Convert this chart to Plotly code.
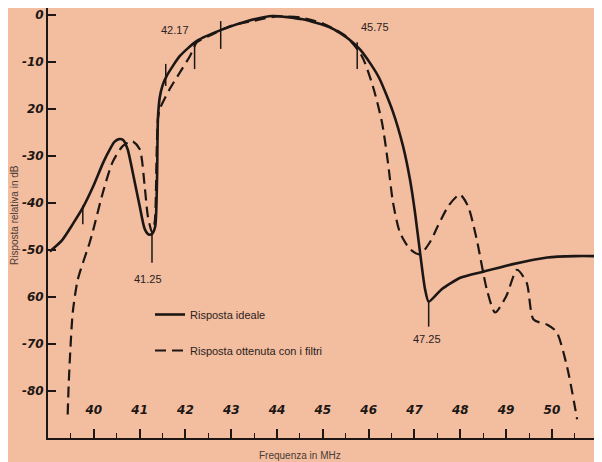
import plotly.graph_objects as go

# Ideal response (solid)
freq_ideal = [39.04, 39.3, 39.54, 39.76, 39.98, 40.2, 40.35, 40.45, 40.55, 40.64, 40.74, 40.85,
              41.0, 41.11, 41.2, 41.27, 41.34, 41.38, 41.4, 41.44, 41.5, 41.6, 41.88, 42.25,
              42.82, 43.34, 43.9, 44.56, 45.15, 45.37, 45.59, 45.81, 46.05, 46.24, 46.53, 46.75,
              46.9, 47.01, 47.12, 47.23, 47.31, 47.6, 48.0, 48.5, 49.15, 49.9, 50.5, 51.0]
db_ideal = [-50.3, -48, -44.5, -41, -36.6, -31.5, -28.6, -27, -26.4, -26.6, -28.6, -33.5,
            -40.6, -45.5, -46.7, -46.6, -45, -35, -22, -17.5, -15, -12.8, -8.7, -5.5,
            -3, -1.3, -0.2, -0.9, -2.6, -3.8, -5.3, -7.3, -10.5, -13.6, -20.6, -27.9,
            -34.9, -41.9, -50.4, -58.3, -61, -58.3, -55.9, -54.6, -53, -51.6, -51.3, -51.3]

# Response obtained with the filters (dashed)
freq_filt = [39.43, 39.45, 39.48, 39.54, 39.65, 39.91, 39.98, 40.2, 40.41, 40.63, 40.83, 41.0,
             41.11, 41.18, 41.27, 41.33, 41.37, 41.4, 41.44, 41.66, 41.88, 42.1, 42.25,
             42.5, 43.0, 43.5, 44.0, 44.5, 45.0, 45.5, 45.85, 46.09, 46.29, 46.42, 46.53, 46.68,
             46.9, 47.12, 47.34, 47.51, 47.75, 47.99, 48.17, 48.36, 48.58, 48.76, 49.0, 49.24,
             49.45, 49.6, 49.9, 50.1, 50.33, 50.55]
db_filt = [-85, -79, -72.7, -63.3, -56.3, -48.4, -46, -37.7, -31.3, -27.9, -26.8, -28.5,
           -36.4, -42.8, -46.2, -44, -30, -22, -20, -15.7, -12.2, -8.7, -5.8,
           -4.5, -2.3, -1.2, -0.3, -0.5, -1.8, -4.5, -8.7, -15.1, -22.8, -31.3, -39.8, -46.2,
           -49.8, -50.9, -48.3, -44.9, -40.5, -38.2, -40.7, -47.8, -58.4, -63.3, -59.9, -54.2,
           -57, -64.8, -65.9, -67.4, -74.8, -86]

# Reference marks (short vertical strokes)
mark_x = [39.76, 41.27, 41.57, 42.2, 42.77, 45.75, 47.31]
mark_top = [-40.5, -46.7, -10.4, -5.8, -1.3, -5.8, -61]
mark_bot = [-44.5, -52.7, -15.1, -11.5, -7.2, -11.5, -66.3]

label_text = ["41.25", "42.17", "45.75", "47.25"]
label_x = [41.18, 41.77, 46.13, 47.27]
label_y = [-56.2, -3.2, -2.55, -68.9]

x_ticks = [40, 41, 42, 43, 44, 45, 46, 47, 48, 49, 50, 51]
x_labels = ["40", "41", "42", "43", "44", "45", "46", "47", "48", "49", "50", "51"]
y_ticks = [0, -10, -20, -30, -40, -50, -60, -70, -80]
y_labels = ["0", "-10", "20", "-30", "-40", "-50", "60", "-70", "-80"]

ink = "#1c1714"
bg = "#f3bd9f"

fig = go.Figure()
fig.add_trace(go.Scatter(x=freq_ideal, y=db_ideal, mode="lines", name="Risposta ideale",
                         line=dict(color=ink, width=2.6, shape="spline", smoothing=0.6),
                         legendgroup="a"))
fig.add_trace(go.Scatter(x=freq_filt, y=db_filt, mode="lines", name="Risposta ottenuta con i filtri",
                         line=dict(color=ink, width=2.2, dash="11px,6px", shape="spline", smoothing=0.7),
                         legendgroup="b"))

mx, my = [], []
for x, t, b in zip(mark_x, mark_top, mark_bot):
    mx += [x, x, None]
    my += [t, b, None]
fig.add_trace(go.Scatter(x=mx, y=my, mode="lines", showlegend=False,
                         line=dict(color=ink, width=1.5), hoverinfo="skip"))

for t, x, y in zip(label_text, label_x, label_y):
    fig.add_annotation(x=x, y=y, text=t, showarrow=False,
                       font=dict(family="Liberation Sans", size=11, color="#2a2220"))

fig.add_annotation(xref="paper", yref="paper", x=(300 - 48) / 552, y=-(455 - 438) / 430,
                   xanchor="center", yanchor="middle",
                   text="Frequenza in MHz", showarrow=False,
                   font=dict(family="Liberation Sans", size=10, color="#4a3c36"))
fig.add_annotation(xref="paper", yref="paper", x=-(48 - 15) / 552, y=(438 - 215) / 430,
                   xanchor="center", yanchor="middle",
                   text="Risposta relativa in dB", textangle=-90, showarrow=False,
                   font=dict(family="Liberation Sans", size=10, color="#4a3c36"))

fig.update_layout(
    width=594, height=454,
    margin=dict(l=40, r=2, t=0, b=24),
    paper_bgcolor=bg, plot_bgcolor=bg,
    showlegend=True,
    legend=dict(x=(150 - 48) / 552, y=(438 - 300) / 430, xanchor="left", yanchor="top",
                bgcolor="rgba(0,0,0,0)", tracegroupgap=17,
                font=dict(family="Liberation Sans", size=11, color="#2a2220")),
)
fig.update_xaxes(range=[39, 51.05], showgrid=False, zeroline=False,
                 showline=True, linecolor=ink, linewidth=2,
                 tickvals=x_ticks, ticktext=x_labels,
                 ticks="inside", ticklen=9, tickwidth=1.6, tickcolor=ink,
                 ticklabelposition="inside", ticklabelstandoff=12,
                 tickfont=dict(family="DejaVu Sans", size=12, color=ink, weight="bold", style="italic"),
                 minor=dict(dtick=0.5, tick0=39, ticks="inside", ticklen=5, tickwidth=1.4,
                            tickcolor=ink, showgrid=False))
fig.update_yaxes(range=[-90, 1.5], showgrid=False, zeroline=False,
                 showline=True, linecolor=ink, linewidth=2,
                 tickvals=y_ticks, ticktext=y_labels,
                 ticks="inside", ticklen=8, tickwidth=2, tickcolor=ink,
                 tickfont=dict(family="DejaVu Sans", size=12, color=ink, weight="bold", style="italic"))

fig.write_html("out.html")
